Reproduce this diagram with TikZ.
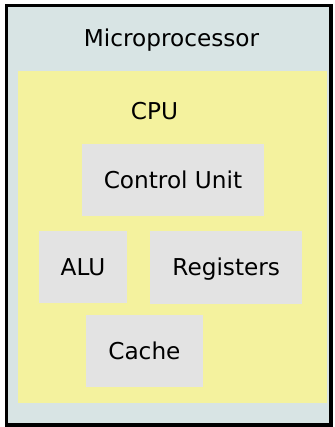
\documentclass[tikz,border=0pt]{standalone}
\usepackage{fontspec}
\setmainfont{DejaVu Sans}
\definecolor{outerfill}{HTML}{D8E4E4}
\definecolor{cpufill}{HTML}{F4F29E}
\definecolor{boxgray}{HTML}{E3E3E3}
\tikzset{
  lbl/.style={font=\fontsize{23.2}{28}\selectfont, text=black, inner sep=0pt},
  unitbox/.style={rectangle, fill=boxgray, draw=none, inner sep=0pt, text height=16.9pt, text depth=0pt, font=\fontsize{23.2}{28}\selectfont},
  areabox/.style={rectangle, inner sep=0pt}
}
\begin{document}
\begin{tikzpicture}[x=1pt,y=-1pt]
\useasboundingbox (0,0) rectangle (334,427);
\node[areabox, fill=outerfill, draw=black, line width=3.5pt, minimum width=324.5pt, minimum height=419.5pt] (mp) at (168.8,215.2) {};
\node[areabox, fill=cpufill, minimum width=309pt, minimum height=332pt] (cpu) at (172.5,236.7) {};
\node[lbl, anchor=base] (mptitle) at (171.5,46.7) {Microprocessor};
\node[lbl, anchor=base] (cputitle) at (154.5,119.3) {CPU};
\node[unitbox, minimum width=182.6pt, minimum height=72pt] (cu) at (173,180) {Control Unit};
\node[unitbox, minimum width=88pt, minimum height=72pt] (alu) at (83,267) {ALU};
\node[unitbox, minimum width=152.3pt, minimum height=73.3pt] (reg) at (226.2,267.3) {Registers};
\node[unitbox, minimum width=116.7pt, minimum height=72.3pt] (cache) at (144.4,351.2) {Cache};
\end{tikzpicture}
\end{document}
